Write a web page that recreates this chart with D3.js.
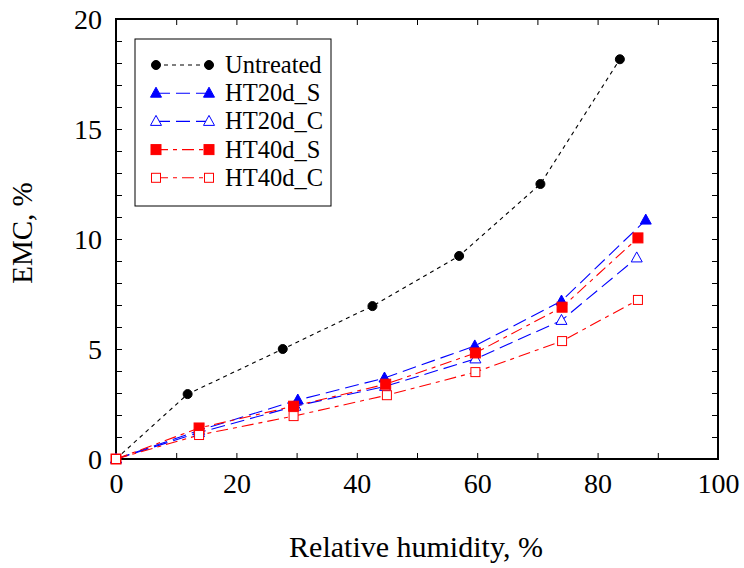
<!DOCTYPE html>
<html>
<head>
<meta charset="utf-8">
<script src="https://cdn.jsdelivr.net/npm/d3@7"></script>
<style>
  html, body { margin: 0; padding: 0; background: #fff; }
  svg { display: block; }
  svg text { font-family: "Liberation Serif", "Times New Roman", Tinos, serif; fill: #000; }
</style>
</head>
<body>
<svg id="chart" width="744" height="568"></svg>
<script>
// Equilibrium moisture content versus relative humidity
const seriesNames = ["Untreated", "HT20d_S", "HT20d_C", "HT40d_S", "HT40d_C"];

const rhUntreated = [0, 11.9, 27.7, 42.6, 57.0, 70.5, 83.7];
const emcUntreated = [0, 2.95, 5.0, 6.95, 9.23, 12.5, 18.17];

const rhHT20dS = [0, 13.8, 30.2, 44.6, 59.6, 74.0, 88.0];
const emcHT20dS = [0, 1.3, 2.68, 3.68, 5.14, 7.18, 10.86];

const rhHT20dC = [0, 13.8, 29.8, 44.7, 59.7, 74.0, 86.5];
const emcHT20dC = [0, 1.2, 2.4, 3.3, 4.55, 6.3, 9.14];

const rhHT40dS = [0, 13.8, 29.5, 44.8, 59.7, 74.1, 86.7];
const emcHT40dS = [0, 1.41, 2.4, 3.4, 4.82, 6.9, 10.05];

const rhHT40dC = [0, 13.8, 29.5, 45.0, 59.7, 74.1, 86.7];
const emcHT40dC = [0, 1.09, 1.95, 2.9, 3.95, 5.36, 7.23];

const xTicks = [0, 20, 40, 60, 80, 100];
const yTicks = [0, 5, 10, 15, 20];

const svg = d3.select("#chart");
const plot = { left: 116, right: 718, top: 19, bottom: 459 };

const x = d3.scaleLinear().domain([0, 100]).range([plot.left, plot.right]);
const y = d3.scaleLinear().domain([0, 20]).range([plot.bottom, plot.top]);

const styles = [
  { color: "#000", dash: "4,4", marker: "circle", fill: true },
  { color: "#0000ff", dash: "14,6", marker: "triangle", fill: true },
  { color: "#0000ff", dash: "14,6", marker: "triangle", fill: false },
  { color: "#ff0000", dash: "12,5,4,5", marker: "square", fill: true },
  { color: "#ff0000", dash: "12,5,4,5", marker: "square", fill: false }
];

const series = [
  d3.zip(rhUntreated, emcUntreated),
  d3.zip(rhHT20dS, emcHT20dS),
  d3.zip(rhHT20dC, emcHT20dC),
  d3.zip(rhHT40dS, emcHT40dS),
  d3.zip(rhHT40dC, emcHT40dC)
];

// inward ticks on all four sides
const tickLen = 6;
const xMinor = d3.range(0, 101, 10);
const yMinor = d3.range(0, 21, 1);

const bottomAxis = d3.axisBottom(x).tickValues(xMinor).tickSize(-tickLen).tickFormat(d => xTicks.includes(d) ? d : "").tickPadding(14);
const topAxis = d3.axisTop(x).tickValues(xMinor).tickSize(-tickLen).tickFormat("");
const leftAxis = d3.axisLeft(y).tickValues(yMinor).tickSize(-tickLen).tickFormat(d => yTicks.includes(d) ? d : "").tickPadding(14);
const rightAxis = d3.axisRight(y).tickValues(yMinor).tickSize(-tickLen).tickFormat("");

function styleAxis(g) {
  g.attr("font-family", null);
  g.select(".domain").remove();
  g.selectAll(".tick line").attr("stroke", "#000").attr("stroke-width", 1);
  g.selectAll("text").attr("font-size", 28);
}

svg.append("g").attr("transform", `translate(0,${plot.bottom})`).call(bottomAxis).call(styleAxis)
  .selectAll("text").attr("dy", "0.71em");
svg.append("g").attr("transform", `translate(0,${plot.top})`).call(topAxis).call(styleAxis);
svg.append("g").attr("transform", `translate(${plot.left},0)`).call(leftAxis).call(styleAxis)
  .selectAll("text").attr("dy", "0.34em");
svg.append("g").attr("transform", `translate(${plot.right},0)`).call(rightAxis).call(styleAxis);

// frame
svg.append("rect")
  .attr("x", plot.left).attr("y", plot.top)
  .attr("width", plot.right - plot.left).attr("height", plot.bottom - plot.top)
  .attr("fill", "none").attr("stroke", "#000").attr("stroke-width", 2);

// axis titles
svg.append("text")
  .attr("x", (plot.left + plot.right) / 2 - 1).attr("y", 557)
  .attr("text-anchor", "middle").attr("font-size", 30)
  .text("Relative humidity, %");
svg.append("text")
  .attr("transform", `translate(32,${233}) rotate(-90)`)
  .attr("text-anchor", "middle").attr("font-size", 29)
  .text("EMC, %");

function drawMarker(g, s, cx, cy) {
  const fill = s.fill ? s.color : "#fff";
  if (s.marker === "circle") {
    g.append("circle").attr("cx", cx).attr("cy", cy).attr("r", 4.5)
      .attr("fill", fill).attr("stroke", s.color).attr("stroke-width", 1);
  } else if (s.marker === "triangle") {
    const h = 10, w = 11;
    g.append("path")
      .attr("d", `M${cx},${cy - h * 0.6} L${cx + w / 2},${cy + h * 0.4} L${cx - w / 2},${cy + h * 0.4} Z`)
      .attr("fill", fill).attr("stroke", s.color).attr("stroke-width", 1);
  } else {
    const a = s.fill ? 10 : 9;
    g.append("rect").attr("x", cx - a / 2).attr("y", cy - a / 2).attr("width", a).attr("height", a)
      .attr("fill", fill).attr("stroke", s.color).attr("stroke-width", 1);
  }
}

const line = d3.line().x(d => x(d[0])).y(d => y(d[1]));
const plotG = svg.append("g");

series.forEach((data, i) => {
  const s = styles[i];
  plotG.append("path").datum(data)
    .attr("d", line).attr("fill", "none")
    .attr("stroke", s.color).attr("stroke-width", 1.1)
    .attr("stroke-dasharray", s.dash);
});
series.forEach((data, i) => {
  const s = styles[i];
  data.forEach(d => drawMarker(plotG, s, x(d[0]), y(d[1])));
});

// legend
const legend = { x: 135, y: 39, w: 196, h: 167, rowY: 65, rowStep: 28.2 };
svg.append("rect")
  .attr("x", legend.x).attr("y", legend.y).attr("width", legend.w).attr("height", legend.h)
  .attr("fill", "#fff").attr("stroke", "#000").attr("stroke-width", 1);

seriesNames.forEach((name, i) => {
  const s = styles[i];
  const cy = legend.rowY + i * legend.rowStep;
  const g = svg.append("g");
  g.append("line").attr("x1", 156).attr("x2", 209).attr("y1", cy).attr("y2", cy)
    .attr("stroke", s.color).attr("stroke-width", 1.1).attr("stroke-dasharray", s.dash);
  drawMarker(g, s, 156, cy);
  drawMarker(g, s, 209, cy);
  g.append("text").attr("x", 225).attr("y", cy).attr("dy", "0.33em")
    .attr("font-size", 24.5).text(name);
});
</script>
</body>
</html>
